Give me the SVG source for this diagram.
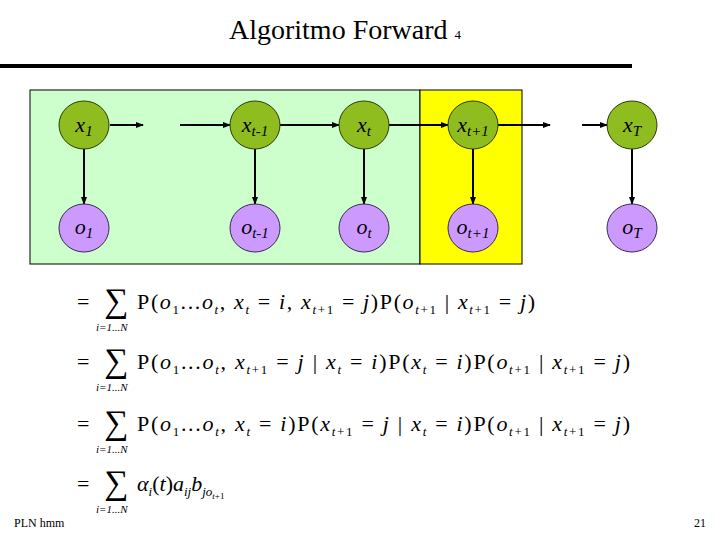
<svg xmlns="http://www.w3.org/2000/svg" width="720" height="540" viewBox="0 0 720 540">
<defs>
<marker id="ah" markerWidth="8" markerHeight="8" refX="7" refY="4" orient="auto" markerUnits="userSpaceOnUse"><path d="M0,1 L8,4 L0,7 z" fill="#000"/></marker>
<style>
.sx{fill:#8fbc1e;stroke:#2d3a08;stroke-width:1}
.so{fill:#cc99ff;stroke:#3a2a55;stroke-width:1}
.lb{font-family:"Liberation Serif",serif;font-style:italic;font-size:22px;text-anchor:middle}
.c{stroke:#000;stroke-width:2;fill:none;marker-end:url(#ah)}
.eq{font-family:"Liberation Serif",serif;font-size:22px}
.sb{font-family:"Liberation Serif",serif;font-style:italic;font-size:11px}
.sg{font-family:"Liberation Serif",serif;font-size:34px}
.ft{font-family:"Liberation Serif",serif;font-size:12px}
</style>
</defs>
<rect width="720" height="540" fill="#fff"/>
<text x="345" y="39" font-family="'Liberation Serif',serif" font-size="28" text-anchor="middle">Algoritmo Forward <tspan font-size="13">4</tspan></text>
<line x1="0" y1="66" x2="632" y2="66" stroke="#000" stroke-width="4"/>
<rect x="30" y="90" width="390" height="174" fill="#ccffcc" stroke="#000" stroke-width="1"/>
<rect x="420" y="90" width="102" height="174" fill="#ffff00" stroke="#000" stroke-width="1"/>
<g id="connectors">
<line class="c" x1="110" y1="125" x2="143" y2="125"/>
<line class="c" x1="180" y1="125" x2="230" y2="125"/>
<line class="c" x1="280" y1="125" x2="339" y2="125"/>
<line class="c" x1="389" y1="125" x2="448" y2="125"/>
<line class="c" x1="498" y1="125" x2="550" y2="125"/>
<line class="c" x1="582" y1="125" x2="607" y2="125"/>
<line class="c" x1="84" y1="149" x2="84" y2="204"/>
<line class="c" x1="255" y1="149" x2="255" y2="204" stroke-width="1"/>
<line class="c" x1="364" y1="149" x2="364" y2="204"/>
<line class="c" x1="473" y1="149" x2="473" y2="204"/>
<line class="c" x1="632" y1="149" x2="632" y2="204"/>
</g>
<g id="x1"><ellipse class="sx" cx="84" cy="125" rx="25" ry="24"/><text class="lb" x="84" y="132">x<tspan font-size="15" dy="4">1</tspan></text></g>
<g id="xtm1"><ellipse class="sx" cx="255" cy="125" rx="25" ry="24"/><text class="lb" x="255" y="132">x<tspan font-size="15" dy="4">t-1</tspan></text></g>
<g id="xt"><ellipse class="sx" cx="364" cy="125" rx="25" ry="24"/><text class="lb" x="364" y="132">x<tspan font-size="15" dy="4">t</tspan></text></g>
<g id="xtp1"><ellipse class="sx" cx="473" cy="125" rx="25" ry="24"/><text class="lb" x="473" y="132">x<tspan font-size="15" dy="4">t+1</tspan></text></g>
<g id="xT"><ellipse class="sx" cx="632" cy="125" rx="25" ry="24"/><text class="lb" x="632" y="132">x<tspan font-size="15" dy="4">T</tspan></text></g>
<g id="o1"><ellipse class="so" cx="84" cy="228" rx="25" ry="24"/><text class="lb" x="84" y="234">o<tspan font-size="15" dy="4">1</tspan></text></g>
<g id="otm1"><ellipse class="so" cx="255" cy="228" rx="25" ry="24"/><text class="lb" x="255" y="234">o<tspan font-size="15" dy="4">t-1</tspan></text></g>
<g id="ot"><ellipse class="so" cx="364" cy="228" rx="25" ry="24"/><text class="lb" x="364" y="234">o<tspan font-size="15" dy="4">t</tspan></text></g>
<g id="otp1"><ellipse class="so" cx="473" cy="228" rx="25" ry="24"/><text class="lb" x="473" y="234">o<tspan font-size="15" dy="4">t+1</tspan></text></g>
<g id="oT"><ellipse class="so" cx="632" cy="228" rx="25" ry="24"/><text class="lb" x="632" y="234">o<tspan font-size="15" dy="4">T</tspan></text></g>

<g id="eq">
<text class="eq" x="77" y="309">=</text><text class="sg" x="104" y="312">∑</text><text class="sb" x="96" y="331">i=1...N</text>
<text class="eq" x="137" y="309" textLength="398">P(<tspan font-style="italic">o</tspan><tspan font-size="13" dy="5">1</tspan><tspan dy="-5">...</tspan><tspan font-style="italic">o</tspan><tspan font-size="13" font-style="italic" dy="5">t</tspan><tspan dy="-5">, </tspan><tspan font-style="italic">x</tspan><tspan font-size="13" font-style="italic" dy="5">t</tspan><tspan dy="-5"> = </tspan><tspan font-style="italic">i</tspan>, <tspan font-style="italic">x</tspan><tspan font-size="13" font-style="italic" dy="5">t</tspan><tspan font-size="13">+1</tspan><tspan dy="-5"> = </tspan><tspan font-style="italic">j</tspan>)P(<tspan font-style="italic">o</tspan><tspan font-size="13" font-style="italic" dy="5">t</tspan><tspan font-size="13">+1</tspan><tspan dy="-5"> | </tspan><tspan font-style="italic">x</tspan><tspan font-size="13" font-style="italic" dy="5">t</tspan><tspan font-size="13">+1</tspan><tspan dy="-5"> = </tspan><tspan font-style="italic">j</tspan>)</text>

<text class="eq" x="77" y="369">=</text><text class="sg" x="104" y="372">∑</text><text class="sb" x="96" y="391">i=1...N</text>
<text class="eq" x="137" y="369" textLength="493">P(<tspan font-style="italic">o</tspan><tspan font-size="13" dy="5">1</tspan><tspan dy="-5">...</tspan><tspan font-style="italic">o</tspan><tspan font-size="13" font-style="italic" dy="5">t</tspan><tspan dy="-5">, </tspan><tspan font-style="italic">x</tspan><tspan font-size="13" font-style="italic" dy="5">t</tspan><tspan font-size="13">+1</tspan><tspan dy="-5"> = </tspan><tspan font-style="italic">j</tspan> | <tspan font-style="italic">x</tspan><tspan font-size="13" font-style="italic" dy="5">t</tspan><tspan dy="-5"> = </tspan><tspan font-style="italic">i</tspan>)P(<tspan font-style="italic">x</tspan><tspan font-size="13" font-style="italic" dy="5">t</tspan><tspan dy="-5"> = </tspan><tspan font-style="italic">i</tspan>)P(<tspan font-style="italic">o</tspan><tspan font-size="13" font-style="italic" dy="5">t</tspan><tspan font-size="13">+1</tspan><tspan dy="-5"> | </tspan><tspan font-style="italic">x</tspan><tspan font-size="13" font-style="italic" dy="5">t</tspan><tspan font-size="13">+1</tspan><tspan dy="-5"> = </tspan><tspan font-style="italic">j</tspan>)</text>

<text class="eq" x="77" y="431">=</text><text class="sg" x="104" y="434">∑</text><text class="sb" x="96" y="453">i=1...N</text>
<text class="eq" x="137" y="431" textLength="493">P(<tspan font-style="italic">o</tspan><tspan font-size="13" dy="5">1</tspan><tspan dy="-5">...</tspan><tspan font-style="italic">o</tspan><tspan font-size="13" font-style="italic" dy="5">t</tspan><tspan dy="-5">, </tspan><tspan font-style="italic">x</tspan><tspan font-size="13" font-style="italic" dy="5">t</tspan><tspan dy="-5"> = </tspan><tspan font-style="italic">i</tspan>)P(<tspan font-style="italic">x</tspan><tspan font-size="13" font-style="italic" dy="5">t</tspan><tspan font-size="13">+1</tspan><tspan dy="-5"> = </tspan><tspan font-style="italic">j</tspan> | <tspan font-style="italic">x</tspan><tspan font-size="13" font-style="italic" dy="5">t</tspan><tspan dy="-5"> = </tspan><tspan font-style="italic">i</tspan>)P(<tspan font-style="italic">o</tspan><tspan font-size="13" font-style="italic" dy="5">t</tspan><tspan font-size="13">+1</tspan><tspan dy="-5"> | </tspan><tspan font-style="italic">x</tspan><tspan font-size="13" font-style="italic" dy="5">t</tspan><tspan font-size="13">+1</tspan><tspan dy="-5"> = </tspan><tspan font-style="italic">j</tspan>)</text>

<text class="eq" x="77" y="491">=</text><text class="sg" x="104" y="494">∑</text><text class="sb" x="96" y="513">i=1...N</text>
<text class="eq" x="137" y="491"><tspan font-style="italic">α</tspan><tspan font-size="13" font-style="italic" dy="5">i</tspan><tspan dy="-5">(</tspan><tspan font-style="italic">t</tspan>)<tspan font-style="italic">a</tspan><tspan font-size="13" font-style="italic" dy="5">ij</tspan><tspan font-style="italic" dy="-5">b</tspan><tspan font-size="13" font-style="italic" dy="5">jo</tspan><tspan font-size="9" font-style="italic" dy="3">t</tspan><tspan font-size="9">+1</tspan></text>
</g>
<text class="ft" x="14" y="527">PLN  hmm</text>
<text class="ft" x="706" y="527" text-anchor="end">21</text>
</svg>
